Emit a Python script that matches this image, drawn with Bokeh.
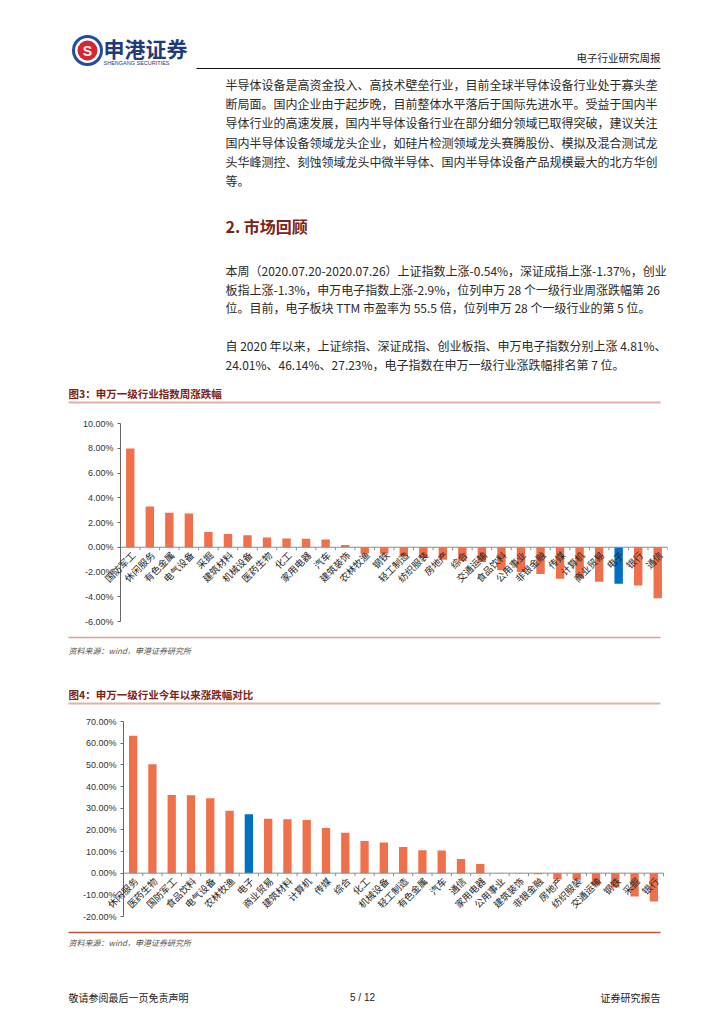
import math
from bokeh.plotting import figure
from bokeh.layouts import column
from bokeh.models import Range1d, FixedTicker, PrintfTickFormatter, ColumnDataSource
from bokeh.core.properties import value
from bokeh.embed import file_html
from bokeh.resources import INLINE

CJK = "Noto Sans CJK SC"
LAT = "Liberation Sans"

# ---------------- data ----------------
weekly_cats = ["国防军工", "休闲服务", "有色金属", "电气设备", "采掘", "建筑材料", "机械设备",
               "医药生物", "化工", "家用电器", "汽车", "建筑装饰", "农林牧渔", "钢铁",
               "轻工制造", "纺织服装", "房地产", "综合", "交通运输", "食品饮料", "公用事业",
               "非银金融", "传媒", "计算机", "商业贸易", "电子", "银行", "通信"]
weekly_vals = [7.97, 3.30, 2.78, 2.73, 1.24, 1.08, 0.97, 0.78, 0.70, 0.68, 0.62, 0.19,
               -0.52, -0.52, -0.73, -0.86, -1.00, -1.13, -1.19, -1.86, -2.00, -2.16,
               -2.54, -2.50, -2.78, -2.95, -3.10, -4.13]
weekly_ticks = [-6, -4, -2, 0, 2, 4, 6, 8, 10]

ytd_cats = ["休闲服务", "医药生物", "国防军工", "食品饮料", "电气设备", "农林牧渔", "电子",
            "商业贸易", "建筑材料", "计算机", "传媒", "综合", "化工", "机械设备", "轻工制造",
            "有色金属", "汽车", "通信", "家用电器", "公用事业", "建筑装饰", "非银金融",
            "房地产", "纺织服装", "交通运输", "钢铁", "采掘", "银行"]
ytd_vals = [63.4, 50.3, 36.1, 36.0, 34.6, 28.8, 27.23, 25.1, 24.9, 24.5, 20.8, 18.6,
            14.8, 14.1, 12.1, 10.6, 10.5, 6.5, 4.2, -0.1, -0.2, -0.5, -2.8, -3.0,
            -5.4, -6.6, -10.8, -13.1]
ytd_ticks = [-20, -10, 0, 10, 20, 30, 40, 50, 60, 70]

highlight = "电子"

para1 = ["半导体设备是高资金投入、高技术壁垒行业，目前全球半导体设备行业处于寡头垄",
         "断局面。国内企业由于起步晚，目前整体水平落后于国际先进水平。受益于国内半",
         "导体行业的高速发展，国内半导体设备行业在部分细分领域已取得突破，建议关注",
         "国内半导体设备领域龙头企业，如硅片检测领域龙头赛腾股份、模拟及混合测试龙",
         "头华峰测控、刻蚀领域龙头中微半导体、国内半导体设备产品规模最大的北方华创",
         "等。"]
para2 = ["本周（2020.07.20-2020.07.26）上证指数上涨-0.54%，深证成指上涨-1.37%，创业",
         "板指上涨-1.3%，申万电子指数上涨-2.9%，位列申万 28 个一级行业周涨跌幅第 26",
         "位。目前，电子板块 TTM 市盈率为 55.5 倍，位列申万 28 个一级行业的第 5 位。"]
para3 = ["自 2020 年以来，上证综指、深证成指、创业板指、申万电子指数分别上涨 4.81%、",
         "24.01%、46.14%、27.23%，电子指数在申万一级行业涨跌幅排名第 7 位。"]

section_title = "2. 市场回顾"
fig3_title = "图3：申万一级行业指数周涨跌幅"
fig4_title = "图4：申万一级行业今年以来涨跌幅对比"
source_text = "资料来源：wind，申港证券研究所"
header_right = "电子行业研究周报"
footer_left = "敬请参阅最后一页免责声明"
footer_mid = "5 / 12"
footer_right = "证券研究报告"

# ---------------- page geometry ----------------
W = 720
FL, FR = 60, 667           # common frame (all figures in the column share it)
BODY_X = 225
TEXT_RIGHT = 660
CHART_X0 = 68
PAD = 8                    # room above/below the y-axis ends for their labels

ORANGE = "#EF704A"
BLUE = "#0070C0"
TITLE_RED = "#7A2418"


def text_fig(top, bottom):
    p = figure(width=W, height=bottom - top, x_range=Range1d(FL, FR),
               y_range=Range1d(bottom, top), output_backend="svg",
               toolbar_location=None,
               min_border_left=FL, min_border_right=W - FR,
               min_border_top=0, min_border_bottom=0,
               x_axis_location=None, y_axis_location=None)
    p.outline_line_color = None
    p.xgrid.visible = False
    p.ygrid.visible = False
    p.background_fill_color = "white"
    p.border_fill_color = "white"
    return p


def put_text(p, x, y, txt, size, color="#222", font=CJK, align="left", style="normal"):
    p.text(x=[x], y=[y], text=[txt], text_font=value(font), text_font_size=size,
           text_color=color, text_align=align, text_baseline="middle",
           text_font_style=style, level="annotation")


def put_line(p, x0, x1, y, color, width):
    p.line(x=[x0, x1], y=[y, y], line_color=color, line_width=width)


# ---------------- top section (page y 0 -> 410) ----------------
A_TOP, A_BOT = 0, 410
pa = text_fig(A_TOP, A_BOT)
pa.circle(x=[87], y=[50], radius=15.5, fill_color="#1f4e9e", line_color=None)
pa.circle(x=[87], y=[50], radius=12.5, fill_color="white", line_color=None)
pa.circle(x=[87], y=[50], radius=10, fill_color="#d7262e", line_color=None)
put_text(pa, 87, 50.5, "S", "14px", color="white", font=LAT, align="center", style="bold")
put_text(pa, 103, 47, "申港证券", "21px", color="#1f3b78", style="bold")
put_text(pa, 103, 62, "SHENGANG SECURITIES", "5.5px", color="#1f3b78", font=LAT)
put_text(pa, TEXT_RIGHT, 57, header_right, "10.5px", color="#222", align="right")
put_line(pa, 196, TEXT_RIGHT, 68, "#111", 1)

for i, line in enumerate(para1):
    put_text(pa, BODY_X, 84 + 19.2 * i, line, "12px", color="#2a2a2a")

put_text(pa, BODY_X, 225, section_title, "16px", color=TITLE_RED, style="bold")

for i, line in enumerate(para2):
    put_text(pa, BODY_X, 270 + 18.5 * i, line, "12px", color="#2a2a2a")
for i, line in enumerate(para3):
    put_text(pa, BODY_X, 345 + 19 * i, line, "12px", color="#2a2a2a")

put_text(pa, CHART_X0, 393, fig3_title, "10.5px", color=TITLE_RED, style="bold")
put_line(pa, CHART_X0, TEXT_RIGHT, 402, "#e2b2a6", 2)


# ---------------- bar charts ----------------
def bar_chart(cats, vals, ticks, top, bottom, f_top, f_bot, f_left, f_right):
    n = len(cats)
    u = (f_right - f_left) / n
    x0 = -(f_left - FL) / u
    px_per_unit = (f_bot - f_top) / (ticks[-1] - ticks[0])
    pad_u = PAD / px_per_unit
    p = figure(width=W, height=bottom - top,
               x_range=Range1d(x0, n + (FR - f_right) / u),
               y_range=Range1d(ticks[0] - pad_u, ticks[-1] + pad_u),
               output_backend="svg", toolbar_location=None,
               x_axis_location=None,
               min_border_left=FL, min_border_right=W - FR,
               min_border_top=f_top - PAD - top, min_border_bottom=bottom - f_bot - PAD)
    p.outline_line_color = None
    p.xgrid.visible = False
    p.ygrid.visible = False
    p.background_fill_color = "white"
    p.border_fill_color = "white"

    ax = p.yaxis[0]
    ax.fixed_location = 0
    ax.bounds = (ticks[0], ticks[-1])
    ax.ticker = FixedTicker(ticks=ticks)
    ax.formatter = PrintfTickFormatter(format="%.2f%%")
    ax.major_label_text_font = LAT
    ax.major_label_text_font_size = "9px"
    ax.major_label_text_color = "#333"
    ax.axis_line_color = "#666"
    ax.major_tick_line_color = "#666"
    ax.major_tick_in = 0
    ax.major_tick_out = 3
    ax.minor_tick_line_color = None
    ax.major_label_standoff = 4

    centers = [i + 0.5 for i in range(n)]
    colors = [BLUE if c == highlight else ORANGE for c in cats]
    src = ColumnDataSource(dict(x=centers, top=vals, color=colors, cat=cats))
    p.vbar(x="x", top="top", bottom=0, width=0.43, source=src,
           fill_color="color", line_color=None)

    p.segment(x0=[0], y0=[0], x1=[n], y1=[0], line_color="#8c8c8c", line_width=1)
    tick_pos = list(range(n + 1))
    p.segment(x0=tick_pos, y0=[0] * len(tick_pos), x1=tick_pos,
              y1=[-3 / px_per_unit] * len(tick_pos), line_color="#8c8c8c", line_width=1)

    p.text(x="x", y=-6 / px_per_unit, text="cat", source=src, angle=math.pi / 4,
           x_offset=3, text_align="right", text_baseline="middle",
           text_font=value(CJK), text_font_size="9.5px", text_color="#222",
           level="annotation")
    return p


B_TOP, B_BOT = 410, 630
pb = bar_chart(weekly_cats, weekly_vals, weekly_ticks, B_TOP, B_BOT, 423, 621, 120, 667)

# ---------------- middle section (630 -> 712) ----------------
C_TOP, C_BOT = 630, 712
pc = text_fig(C_TOP, C_BOT)
put_line(pc, CHART_X0, TEXT_RIGHT, 637, "#d9a093", 1.5)
put_text(pc, CHART_X0, 650, source_text, "8px", color="#555", style="italic")
put_text(pc, CHART_X0, 694, fig4_title, "10.5px", color=TITLE_RED, style="bold")
put_line(pc, CHART_X0, TEXT_RIGHT, 703, "#e2b2a6", 2)

D_TOP, D_BOT = 712, 925
pd_ = bar_chart(ytd_cats, ytd_vals, ytd_ticks, D_TOP, D_BOT, 721, 916, 123, 663)

# ---------------- bottom section (925 -> 1020) ----------------
E_TOP, E_BOT = 925, 1020
pe = text_fig(E_TOP, E_BOT)
put_line(pe, CHART_X0, TEXT_RIGHT, 932, "#c8513a", 1.5)
put_text(pe, CHART_X0, 942, source_text, "8px", color="#555", style="italic")
put_text(pe, CHART_X0, 997, footer_left, "10px", color="#222")
put_text(pe, 362, 997, footer_mid, "10px", color="#222", font=LAT, align="center")
put_text(pe, TEXT_RIGHT, 997, footer_right, "10px", color="#222", align="right")

layout = column(pa, pb, pc, pd_, pe, spacing=0)

open("out.html", "w").write(file_html(layout, INLINE))
